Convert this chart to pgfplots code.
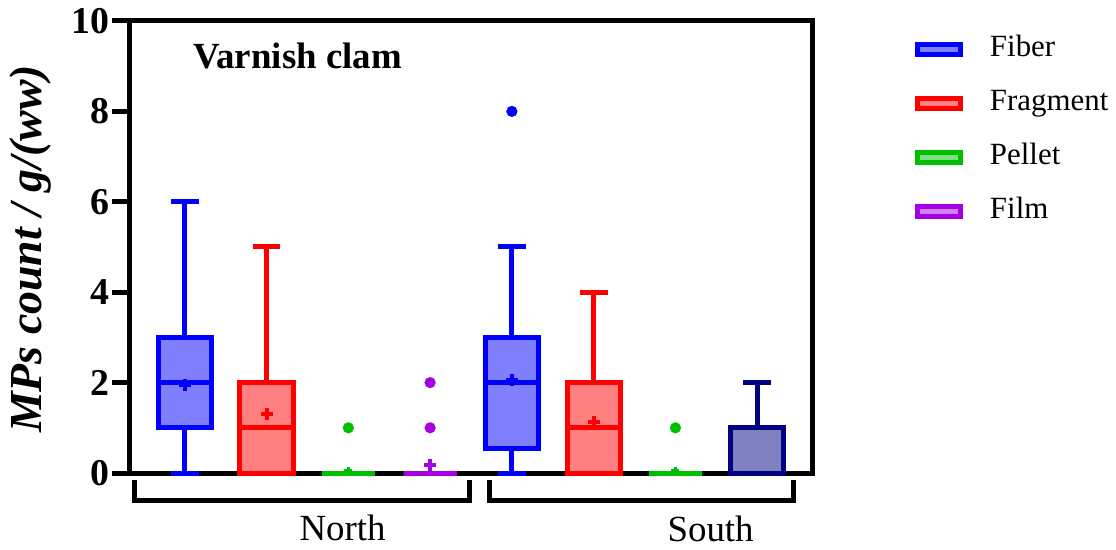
\documentclass[border=0pt]{standalone}
\usepackage{fontspec}
\setmainfont{Liberation Serif}
\usepackage{pgfplots}
\pgfplotsset{compat=1.18}
\usepgfplotslibrary{statistics}
\definecolor{cfib}{RGB}{0,0,255}
\definecolor{cfra}{RGB}{255,0,0}
\definecolor{cpel}{RGB}{0,190,0}
\definecolor{cfil}{RGB}{165,0,228}
\definecolor{cnav}{RGB}{0,0,128}
\begin{document}
\begin{tikzpicture}
\begin{axis}[
  at={(0,0)}, anchor=south west,
  scale only axis, width=682bp, height=452bp,
  xmin=-0.67, xmax=7.67, ymin=0, ymax=10,
  xtick=\empty, ytick={0,2,4,6,8,10},
  ytick pos=left, tick align=outside,
  major tick length=18bp,
  axis line style={line width=5bp},
  every tick/.style={black, line width=5bp},
  clip=false,
  /pgf/number format/assume math mode=true,
  yticklabel style={font=\bfseries\fontsize{38}{38}\selectfont, inner sep=2bp},
  ylabel={MPs count / g/(ww)},
  ylabel style={font=\bfseries\itshape\fontsize{46}{46}\selectfont,
    at={(axis description cs:-0.1466,0.4956)}, anchor=center},
  boxplot/draw direction=y,
  boxplot/box extend=0.65, boxplot/whisker extend=0.34,
  legend style={at={(axis description cs:1.151,0.969)}, anchor=north west,
    draw=none, fill=none, inner sep=0pt, outer sep=0pt,
    font=\fontsize{31}{31}\selectfont, row sep=26bp, column sep=27bp,
    nodes={inner sep=0pt, text height=21bp, text depth=7bp}},
  legend cell align=left,
]
% North
\addplot[forget plot, boxplot prepared={lower whisker=0, lower quartile=1, median=2, upper quartile=3, upper whisker=6, draw position=0},
  draw=cfib, fill=cfib!50, line width=5bp] coordinates {};
\addplot[forget plot, boxplot prepared={lower whisker=0, lower quartile=0, median=1, upper quartile=2, upper whisker=5, draw position=1},
  draw=cfra, fill=cfra!50, line width=5bp] coordinates {};
\addplot[forget plot, boxplot prepared={lower whisker=0, lower quartile=0, median=0, upper quartile=0, upper whisker=0, draw position=2},
  draw=cpel, fill=cpel!50, line width=5bp, mark=*, mark size=5.5bp, mark options={fill=cpel, line width=0.1bp}]
  table[row sep=\\, y index=0]{v\\ 1\\};
\addplot[forget plot, boxplot prepared={lower whisker=0, lower quartile=0, median=0, upper quartile=0, upper whisker=0, draw position=3},
  draw=cfil, fill=cfil!50, line width=5bp, mark=*, mark size=5.5bp, mark options={fill=cfil, line width=0.1bp}]
  table[row sep=\\, y index=0]{v\\ 1\\ 2\\};
% South
\addplot[forget plot, boxplot prepared={lower whisker=0, lower quartile=0.55, median=2, upper quartile=3, upper whisker=5, draw position=4},
  draw=cfib, fill=cfib!50, line width=5bp, mark=*, mark size=5.5bp, mark options={fill=cfib, line width=0.1bp}]
  table[row sep=\\, y index=0]{v\\ 8\\};
\addplot[forget plot, boxplot prepared={lower whisker=0, lower quartile=0, median=1, upper quartile=2, upper whisker=4, draw position=5},
  draw=cfra, fill=cfra!50, line width=5bp] coordinates {};
\addplot[forget plot, boxplot prepared={lower whisker=0, lower quartile=0, median=0, upper quartile=0, upper whisker=0, draw position=6},
  draw=cpel, fill=cpel!50, line width=5bp, mark=*, mark size=5.5bp, mark options={fill=cpel, line width=0.1bp}]
  table[row sep=\\, y index=0]{v\\ 1\\};
\addplot[forget plot, boxplot prepared={lower whisker=0, lower quartile=0, median=0, upper quartile=1, upper whisker=2, draw position=7},
  draw=cnav, fill=cnav!50, line width=5bp] coordinates {};
% means
\addplot[forget plot, only marks, mark=+, mark size=6bp, line width=4bp, cfib] coordinates {(0,1.95) (4,2.05)};
\addplot[forget plot, only marks, mark=+, mark size=6bp, line width=4bp, cfra] coordinates {(1,1.3) (5,1.12)};
\addplot[forget plot, only marks, mark=+, mark size=4bp, line width=3bp, cpel] coordinates {(2,0.05) (6,0.05)};
\addplot[forget plot, only marks, mark=+, mark size=6bp, line width=4bp, cfil] coordinates {(3,0.17)};
% legend
\addlegendimage{draw=cfib, fill=cfib!50, line width=5bp, legend image code/.code={\draw (0bp,-5bp) rectangle (43bp,5bp);}}
\addlegendentry{Fiber}
\addlegendimage{draw=cfra, fill=cfra!50, line width=5bp, legend image code/.code={\draw (0bp,-5bp) rectangle (43bp,5bp);}}
\addlegendentry{Fragment}
\addlegendimage{draw=cpel, fill=cpel!50, line width=5bp, legend image code/.code={\draw (0bp,-5bp) rectangle (43bp,5bp);}}
\addlegendentry{Pellet}
\addlegendimage{draw=cfil, fill=cfil!50, line width=5bp, legend image code/.code={\draw (0bp,-5bp) rectangle (43bp,5bp);}}
\addlegendentry{Film}
% annotations
\node[anchor=base west, font=\bfseries\fontsize{37}{37}\selectfont] at (axis cs:0.06,8.96) {Varnish clam};
\draw[line width=5bp] (axis cs:-0.62,-0.155) -- (axis cs:-0.62,-0.6) -- (axis cs:3.48,-0.6) -- (axis cs:3.48,-0.155);
\draw[line width=5bp] (axis cs:3.73,-0.155) -- (axis cs:3.73,-0.6) -- (axis cs:7.44,-0.6) -- (axis cs:7.44,-0.155);
\node[font=\fontsize{37}{37}\selectfont] at (axis cs:1.93,-1.22) {North};
\node[font=\fontsize{37}{37}\selectfont] at (axis cs:6.43,-1.24) {South};
\end{axis}
\pgfresetboundingbox
\path[use as bounding box] (-130bp,-77bp) rectangle (986bp,473bp);
\end{tikzpicture}
\end{document}
